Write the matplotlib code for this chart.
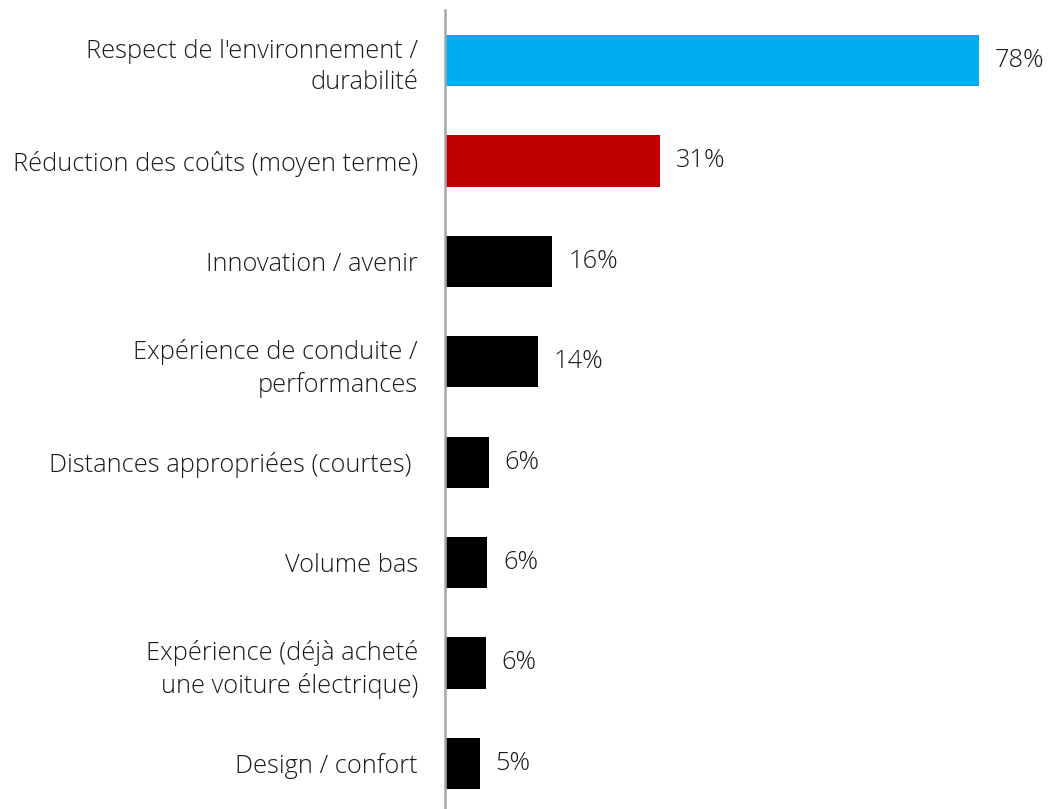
import matplotlib
matplotlib.use("Agg")
import matplotlib.pyplot as plt

categories = [
    "Respect de l'environnement /\ndurabilité",
    "Réduction des coûts (moyen terme)",
    "Innovation / avenir",
    "Expérience de conduite /\nperformances",
    "Distances appropriées (courtes) ",
    "Volume bas",
    "Expérience (déjà acheté\nune voiture électrique)",
    "Design / confort",
]
values = [78, 31.4, 15.7, 13.6, 6.4, 6.2, 6.0, 5.1]
value_labels = ["78%", "31%", "16%", "14%", "6%", "6%", "6%", "5%"]
colors = ["#00AEEF", "#C00000", "#000000", "#000000", "#000000", "#000000", "#000000", "#000000"]

plt.rcParams['font.family'] = ['Open Sans', 'DejaVu Sans']
FS = 18.3
fig = plt.figure(figsize=(10.48, 8.09), dpi=100)
ax = fig.add_axes([445/1048, 0, 1 - 445/1048, 1 - 10/809])

ypos = list(range(len(categories)))
ax.barh(ypos, values, height=0.51, color=colors)
ax.set_ylim(7.455, -0.503)
ax.set_xlim(0, (1048 - 445) / 6.84)

for y, v, lab in zip(ypos, values, value_labels):
    ax.text(v + 2.3, y, lab, va='center', ha='left', fontsize=FS,
            color='#1a1a1a', fontweight='light')

ax.set_yticks(ypos)
ax.set_yticklabels(categories, fontsize=FS, color='#1a1a1a', fontweight='light')
for t in ax.get_yticklabels():
    t.set_linespacing(1.35)
ax.tick_params(axis='y', length=0, pad=19.5)
ax.set_xticks([])
for s in ['top', 'right', 'bottom']:
    ax.spines[s].set_visible(False)
ax.spines['left'].set_color('#A6A6A6')
ax.spines['left'].set_linewidth(1.8)

fig.savefig("out.png", dpi=100)
